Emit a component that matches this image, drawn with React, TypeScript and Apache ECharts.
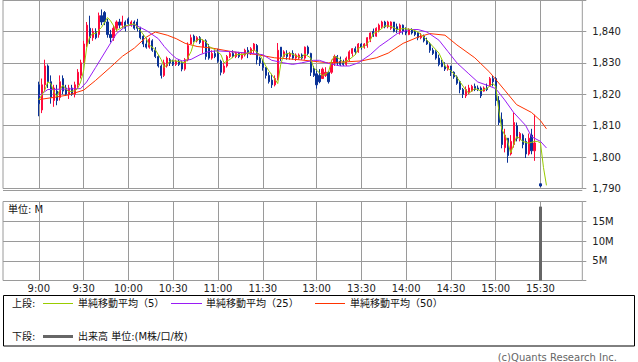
import React, { useEffect, useRef } from "react";
import * as echarts from "echarts";

// time blocks of 2-minute slots on the x axis: [start, count]
const TIME_BLOCKS: [string, number][] = [
  ["8:36", 12],
  ["9:00", 78],
  ["12:30", 105],
];
const FIRST_BAR_SLOT = 12; // slot of 9:00
const TICK_LABELS = ["9:00", "9:30", "10:00", "10:30", "11:00", "11:30", "13:00", "13:30", "14:00", "14:30", "15:00", "15:30"];
const PRICE_TICKS = { min: 1790, max: 1850, step: 10 };
const VOLUME_TICKS = { min: 0, max: 20, step: 5 };

// 2-minute candles from 9:00: [open, close, low, high]
const CANDLES: ([number, number, number, number] | null)[] = [
  [1823, 1817, 1813, 1824], [1815, 1823, 1814, 1825], [1823, 1829, 1821, 1831], [1829, 1824, 1822, 1829.5],
  [1824, 1819, 1817, 1826], [1818, 1822, 1816, 1823], [1821, 1818, 1816.5, 1823], [1819, 1824, 1818, 1826],
  [1825, 1821, 1820, 1826], [1822, 1820, 1819.5, 1823], [1820, 1822, 1818.5, 1823], [1822, 1820, 1819.5, 1823],
  [1820, 1823, 1819, 1824], [1823, 1827, 1822, 1828], [1826, 1830, 1825, 1831], [1830, 1836, 1830, 1837],
  [1836, 1842, 1835, 1843], [1841, 1838, 1836, 1845], [1838, 1840, 1837, 1841], [1840, 1838, 1837.5, 1841],
  [1839, 1845, 1838, 1846], [1845, 1843, 1842, 1847], [1846, 1843, 1842, 1846.5], [1843, 1839, 1838, 1844],
  [1839, 1838, 1836.5, 1840.5], [1838, 1841, 1837, 1842], [1841, 1843, 1840, 1843.5], [1843, 1842, 1841, 1844],
  [1842, 1843, 1841, 1845], [1843, 1841, 1840, 1843.5], [1844, 1842.5, 1842, 1844.5], [1842, 1843, 1841.5, 1843.5],
  [1843, 1841, 1840.5, 1843.5], [1843, 1841, 1840, 1844], [1841, 1838, 1837.5, 1841.5], [1838.5, 1836, 1835, 1839],
  [1836, 1835, 1834.5, 1838], [1835, 1837.5, 1834.5, 1838], [1837, 1834, 1833.5, 1837.5], [1834, 1832, 1831.5, 1835],
  [1832, 1829, 1828.5, 1832.5], [1829, 1826, 1825, 1829.5], [1826, 1830, 1825.5, 1831], [1829, 1831.5, 1828.5, 1832],
  [1831, 1830, 1829, 1831.5], [1830.5, 1829.5, 1829, 1831], [1829.5, 1830.5, 1829, 1831], [1830.5, 1829.5, 1829, 1831],
  [1830, 1828, 1827.3, 1830.5], [1828, 1831, 1827.5, 1831.5], [1831, 1835.5, 1830.5, 1836.5], [1836, 1838, 1836, 1839],
  [1838.5, 1837, 1836.5, 1839], [1837, 1838, 1836.5, 1838.5], [1838, 1836.5, 1836, 1838.5], [1835, 1837, 1833, 1837.5],
  [1837, 1832, 1831, 1837.5], [1835, 1831.5, 1831, 1836], [1831.5, 1833, 1831, 1834], [1833, 1832, 1831.5, 1834],
  [1833, 1830.5, 1830, 1834.5], [1830.5, 1827, 1826, 1831], [1827, 1829, 1826.5, 1830], [1829, 1832, 1828.5, 1832.5],
  [1832, 1833, 1831.5, 1833.5], [1833, 1832, 1831.5, 1834], [1832, 1833, 1831.5, 1833.5], [1833, 1832, 1831.5, 1833.5],
  [1831.5, 1832.5, 1831, 1833], [1832.5, 1834, 1832, 1834.5], [1834, 1833, 1831.5, 1835], [1833, 1834.5, 1832.5, 1835],
  [1834, 1836, 1833, 1836.3], [1835.5, 1831, 1829.5, 1836], [1831.5, 1830, 1829, 1832], [1830, 1828.5, 1827.5, 1831],
  [1828.5, 1826, 1825, 1828.6], [1826, 1824, 1823.4, 1827], [1824.5, 1823, 1822, 1826.5], [1823, 1825, 1822.5, 1826],
  [1825, 1834, 1824.4, 1836.3], [1835, 1832, 1830.6, 1835], [1832, 1833.5, 1831.7, 1834], [1833, 1832, 1831, 1834],
  [1832, 1833, 1831, 1833.5], [1833, 1831.5, 1831, 1834], [1831.5, 1832.5, 1830.6, 1833], [1831.5, 1832.5, 1831, 1833],
  [1832.5, 1831.5, 1831, 1833], [1831.5, 1835, 1831, 1835.2], [1835, 1833, 1832.5, 1835.5], [1833, 1827, 1825.8, 1833.2],
  [1828, 1826, 1825.5, 1829], [1826.5, 1823, 1821.8, 1828], [1826, 1824, 1823.5, 1828], [1825, 1828, 1825, 1828.5],
  [1826, 1827, 1825.5, 1828.6], [1827, 1824, 1823.4, 1827.4], [1827, 1830, 1826.5, 1831], [1830, 1832, 1829, 1832.6],
  [1832, 1830, 1829, 1832.5], [1830.5, 1829.5, 1829, 1832], [1830, 1829.5, 1829, 1831], [1829.5, 1831.5, 1829, 1832],
  [1831, 1833.5, 1830.5, 1834], [1833, 1834.5, 1832, 1834.7], [1834.5, 1833.5, 1832.6, 1835.2], [1833.5, 1836, 1833.2, 1836.3],
  [1836, 1835, 1834.2, 1836.3], [1835, 1836, 1834.5, 1836.3], [1835.5, 1838, 1834.8, 1838.2], [1837.5, 1839.5, 1836.6, 1839.7],
  [1840, 1838.5, 1838.2, 1840.9], [1838.5, 1841, 1838.3, 1841.3], [1840.5, 1842, 1839.7, 1842.5], [1841.5, 1843, 1841, 1843.4],
  [1843, 1841.5, 1841, 1843.4], [1841.5, 1843, 1841, 1843.4], [1841, 1843, 1840.5, 1843.2], [1843, 1840, 1839.7, 1843],
  [1841.5, 1840.5, 1839.5, 1842.5], [1840, 1842, 1839, 1842.5], [1842, 1840, 1839, 1842.2], [1840.5, 1839.5, 1838.8, 1841.3],
  [1839, 1840.5, 1838.8, 1841], [1840.5, 1839.5, 1839, 1841], [1840, 1839, 1838.5, 1840.5], [1839.5, 1838, 1837.2, 1839.7],
  [1838, 1838.5, 1837.5, 1839.5], [1838.5, 1837, 1836.5, 1839], [1837, 1836, 1835.7, 1838], [1836, 1834, 1833.2, 1836.6],
  [1834, 1833, 1832.5, 1834.8], [1833.5, 1831.5, 1831, 1834], [1831.5, 1829.5, 1828.9, 1832.6], [1830, 1828.8, 1828.6, 1831],
  [1829, 1828, 1827.4, 1830.2], [1828, 1829, 1827.5, 1829.5], [1829, 1827, 1825.8, 1829], [1827, 1825.5, 1824.9, 1827.3],
  [1825.5, 1823.5, 1823, 1826], [1824, 1821.5, 1820.3, 1824.3], [1821.5, 1820, 1818.8, 1822], [1819.5, 1821.5, 1818.8, 1822.5],
  [1820.5, 1822, 1820, 1823], [1821, 1822.5, 1820.8, 1823], [1822.5, 1821.5, 1821, 1823.4], [1822, 1821.5, 1821, 1822.8],
  [1822, 1819.5, 1818.8, 1822.5], [1821, 1822, 1820.8, 1822.5], [1822, 1821.5, 1821, 1823.4], [1822.5, 1825, 1822.5, 1825.5],
  [1825, 1824, 1822.5, 1825.8], [1825, 1818, 1816.3, 1825.5], [1818, 1811, 1810.2, 1819.4], [1812, 1804, 1802.8, 1814.2],
  [1803, 1807, 1801.5, 1809], [1806, 1800.5, 1798.2, 1806], [1801, 1805, 1800.5, 1807], [1804, 1811, 1803, 1814.2],
  [1810, 1806, 1805, 1811], [1805.5, 1807.5, 1805, 1808], [1807, 1804, 1802.8, 1807.5], [1805, 1801, 1799.7, 1806],
  [1801, 1806, 1800.5, 1807.5], [1807, 1802, 1800.9, 1809], [1802, 1804.5, 1798.8, 1813.5], null,
  [1791.5, 1790.8, 1790.5, 1791.5],
];

// moving averages: [bar number from 9:00 (2-min), value]
const MA5: [number, number][] = [
  [0, 1818.2], [2, 1821.3], [3, 1823.9], [4, 1823.4], [5, 1820.8], [6, 1819.3], [7, 1821.3], [8, 1822.9], [9, 1821.8],
  [10, 1820.8], [12, 1821.1], [13, 1821.8], [14, 1823.9], [15, 1827.5], [16, 1834.7], [17, 1838.2], [18, 1839.3],
  [19, 1839.3], [21, 1841.3], [23, 1844.4], [24, 1843.4], [26, 1840.3], [27, 1840.8], [29, 1841.8], [32, 1842.4],
  [34, 1840.3], [36, 1837.7], [37, 1835.7], [39, 1834.2], [41, 1831], [42, 1828.5], [44, 1830.6], [46, 1830.6],
  [47, 1830.4], [49, 1830], [51, 1833.6], [52, 1836.7], [54, 1837.7], [56, 1836.7], [57, 1835.2], [59, 1834.2],
  [61, 1832.6], [62, 1830], [64, 1831.1], [66, 1832.6], [67, 1832.6], [69, 1832.7], [71, 1833.6], [72, 1834.2],
  [74, 1832.6], [76, 1829], [77, 1827.5], [79, 1824.9], [80, 1823.4], [81, 1829.5], [82, 1832.6], [84, 1833.1],
  [86, 1832.3], [88, 1831.6], [89, 1832.8], [91, 1831.6], [92, 1828.5], [94, 1826.8], [95, 1825.9], [97, 1827],
  [98, 1830.6], [99, 1832.1], [101, 1831.1], [102, 1830], [104, 1831.1], [106, 1832.6], [107, 1834.7], [109, 1835.2],
  [111, 1837.2], [112, 1839.3], [114, 1840.3], [116, 1841.8], [118, 1841.6], [120, 1840.6], [122, 1840.9], [125, 1840.6],
  [127, 1839.8], [129, 1838.2], [131, 1836.2], [134, 1833.1], [136, 1829], [138, 1827.5], [140, 1825.4], [143, 1821.3],
  [144, 1820.3], [146, 1821.8], [148, 1821.1], [150, 1821.8], [152, 1823.4], [153, 1822.6], [154, 1815.2], [155, 1809],
  [157, 1805], [158, 1801.3], [159, 1803.9], [160, 1806.5], [161, 1806], [162, 1805], [164, 1804.4], [166, 1805],
  [167, 1805], [168, 1804.5], [169, 1796.7], [170, 1791],
];
const MA25: [number, number][] = [
  [0, 1819.5], [3, 1821.5], [14, 1821.8], [16, 1823.9], [19, 1828.5], [23, 1834.7], [26, 1839.3], [29, 1841.6],
  [32, 1842.2], [36, 1840.3], [40, 1837.7], [42, 1835.2], [44, 1833.1], [46, 1831.4], [48, 1830.6], [51, 1831.1],
  [54, 1832.6], [57, 1833.6], [60, 1833.8], [65, 1833.5], [71, 1833], [75, 1832.6], [78, 1830.8], [82, 1830],
  [85, 1829.5], [88, 1830], [92, 1830.8], [94, 1830.8], [97, 1829.8], [101, 1829], [104, 1829], [107, 1830],
  [111, 1832.6], [114, 1835.2], [117, 1837.2], [120, 1839.3], [124, 1840.6], [127, 1840.6], [130, 1839.8], [134, 1837.2],
  [137, 1833.6], [140, 1830], [144, 1826.5], [147, 1823.9], [150, 1822.9], [153, 1821.8], [156, 1818.2], [159, 1814.2],
  [163, 1810.1], [165, 1806.5], [168, 1805], [170, 1802.9],
];
const MA50: [number, number][] = [
  [0, 1818.3], [5, 1819], [10, 1819.8], [15, 1821.3], [19, 1824.4], [24, 1828.6], [28, 1832.1], [32, 1834.7],
  [36, 1838.2], [39, 1839.8], [43, 1838.8], [46, 1837.7], [49, 1836.2], [53, 1835.2], [58, 1834.7], [65, 1833.5],
  [73, 1832.6], [79, 1831.6], [87, 1831], [97, 1830], [108, 1830.6], [113, 1831.6], [117, 1833.1], [122, 1836.2],
  [127, 1838.2], [131, 1839.3], [136, 1838.8], [140, 1835.7], [146, 1831.6], [151, 1827], [156, 1821.3], [160, 1816.7],
  [165, 1814.2], [168, 1811.6], [170, 1809],
];

// volume in millions
const VOLUME_TIMES = ["15:30"];
const VOLUME_VALUES = [18.7];

const COLORS = {
  up: "#ff0a3c",
  down: "#0a3296",
  ma5: "#99cc00",
  ma25: "#9a1cf5",
  ma50: "#ff3300",
  grid: "#9a9a9a",
  volume: "#666666",
  text: "#222222",
};
const FONT = '"DejaVu Sans", "Noto Sans CJK JP", sans-serif';

function buildCategories(): string[] {
  const out: string[] = [];
  TIME_BLOCKS.forEach(([start, count]) => {
    const [h, m] = start.split(":").map(Number);
    let t = h * 60 + m;
    for (let i = 0; i < count; i++) {
      out.push(`${Math.floor(t / 60)}:${String(t % 60).padStart(2, "0")}`);
      t += 2;
    }
  });
  return out;
}

export default function App() {
  const ref = useRef<HTMLDivElement>(null);

  useEffect(() => {
    document.body.style.margin = "0";
    if (!ref.current) return;
    const chart = echarts.init(ref.current, undefined, { renderer: "svg" });
    const cats = buildCategories();
    const isTick = (_i: number, v: string) => TICK_LABELS.includes(v);

    const candleData = cats.map((_, i) => {
      const c = CANDLES[i - FIRST_BAR_SLOT];
      return c ? c : ["-", "-", "-", "-"];
    });
    const toSlots = (arr: [number, number][]) => arr.map(([b, v]) => [b + FIRST_BAR_SLOT, v]);
    const volData = VOLUME_TIMES.map((t, i) => [cats.indexOf(t), VOLUME_VALUES[i]]);

    const gridLeft = 3;
    const gridRight = 55.7;
    const labelStyle = { fontSize: 10, color: COLORS.text, fontFamily: FONT };
    const txt = (text: string, x: number, y: number, extra: any = {}) => ({
      type: "text",
      x,
      y,
      silent: true,
      style: { text, fontSize: 10, fontFamily: FONT, fill: "#111", verticalAlign: "middle", align: "left", ...extra },
    });
    const seg = (x1: number, y1: number, x2: number, y2: number, stroke: string, lineWidth = 1) => ({
      type: "line",
      silent: true,
      shape: { x1, y1, x2, y2 },
      style: { stroke, lineWidth },
    });

    chart.setOption({
      animation: false,
      grid: [
        { left: gridLeft, right: gridRight, top: -6.5, height: 195, show: true, borderColor: COLORS.grid, borderWidth: 1 },
        { left: gridLeft, right: gridRight, top: 201.5, height: 79, show: true, borderColor: COLORS.grid, borderWidth: 1 },
      ],
      xAxis: [
        {
          type: "category",
          gridIndex: 0,
          data: cats,
          boundaryGap: false,
          axisLine: { show: false },
          axisTick: { show: false },
          axisLabel: { show: false },
          splitLine: { show: true, interval: isTick, lineStyle: { color: COLORS.grid, width: 1 } },
        },
        {
          type: "category",
          gridIndex: 1,
          data: cats,
          boundaryGap: false,
          axisLine: { show: false },
          axisTick: { show: false },
          axisLabel: { show: true, interval: isTick, margin: 3, ...labelStyle },
          splitLine: { show: true, interval: isTick, lineStyle: { color: COLORS.grid, width: 1 } },
        },
      ],
      yAxis: [
        {
          type: "value",
          gridIndex: 0,
          position: "right",
          min: PRICE_TICKS.min,
          max: PRICE_TICKS.max,
          interval: PRICE_TICKS.step,
          axisLine: { show: false },
          axisTick: { show: true, length: 4, lineStyle: { color: COLORS.grid } },
          axisLabel: {
            margin: 10,
            ...labelStyle,
            formatter: (v: number) => (v >= PRICE_TICKS.max ? "" : v.toLocaleString("en-US")),
          },
          splitLine: { show: true, lineStyle: { color: COLORS.grid, width: 1 } },
        },
        {
          type: "value",
          gridIndex: 1,
          position: "right",
          min: VOLUME_TICKS.min,
          max: VOLUME_TICKS.max,
          interval: VOLUME_TICKS.step,
          axisLine: { show: false },
          axisTick: { show: true, length: 4, lineStyle: { color: COLORS.grid } },
          axisLabel: {
            margin: 10,
            ...labelStyle,
            formatter: (v: number) => (v <= VOLUME_TICKS.min || v >= VOLUME_TICKS.max ? "" : `${v}M`),
          },
          splitLine: { show: true, lineStyle: { color: COLORS.grid, width: 1 } },
        },
      ],
      series: [
        {
          type: "candlestick",
          xAxisIndex: 0,
          yAxisIndex: 0,
          data: candleData,
          barWidth: 1.6,
          clip: true,
          itemStyle: {
            color: COLORS.up,
            color0: COLORS.down,
            borderColor: COLORS.up,
            borderColor0: COLORS.down,
            borderWidth: 1,
          },
        },
        {
          type: "line",
          name: "MA50",
          xAxisIndex: 0,
          yAxisIndex: 0,
          data: toSlots(MA50),
          symbol: "none",
          clip: true,
          lineStyle: { color: COLORS.ma50, width: 1 },
        },
        {
          type: "line",
          name: "MA25",
          xAxisIndex: 0,
          yAxisIndex: 0,
          data: toSlots(MA25),
          symbol: "none",
          clip: true,
          lineStyle: { color: COLORS.ma25, width: 1 },
        },
        {
          type: "line",
          name: "MA5",
          xAxisIndex: 0,
          yAxisIndex: 0,
          data: toSlots(MA5),
          symbol: "none",
          clip: true,
          lineStyle: { color: COLORS.ma5, width: 1 },
        },
        {
          type: "bar",
          xAxisIndex: 1,
          yAxisIndex: 1,
          data: volData,
          barWidth: 3,
          itemStyle: { color: COLORS.volume },
        },
      ],
      graphic: [
        seg(3, 190.5, 582.3, 190.5, COLORS.grid),
        txt("単位: M", 8, 209.5),
        {
          type: "rect",
          silent: true,
          shape: { x: 3.5, y: 295.5, width: 631, height: 50.5 },
          style: { fill: "#fff", stroke: "#000", lineWidth: 1 },
        },
        txt("上段:", 12, 303.5),
        seg(43, 303.5, 73, 303.5, COLORS.ma5),
        txt("単純移動平均（5）", 78, 303.5),
        seg(171, 303.5, 202, 303.5, COLORS.ma25),
        txt("単純移動平均（25）", 206, 303.5),
        seg(315, 303.5, 345, 303.5, COLORS.ma50),
        txt("単純移動平均（50）", 350, 303.5),
        txt("下段:", 12, 336.5),
        seg(43, 336.5, 73, 336.5, COLORS.volume, 3),
        txt("出来高 単位:(M株/口/枚)", 78, 336.5),
        txt("(c)Quants Research Inc.", 617, 357.5, { align: "right", fill: "#666" }),
      ],
    });
    return () => chart.dispose();
  }, []);

  return <div ref={ref} style={{ width: 638, height: 362 }} />;
}
